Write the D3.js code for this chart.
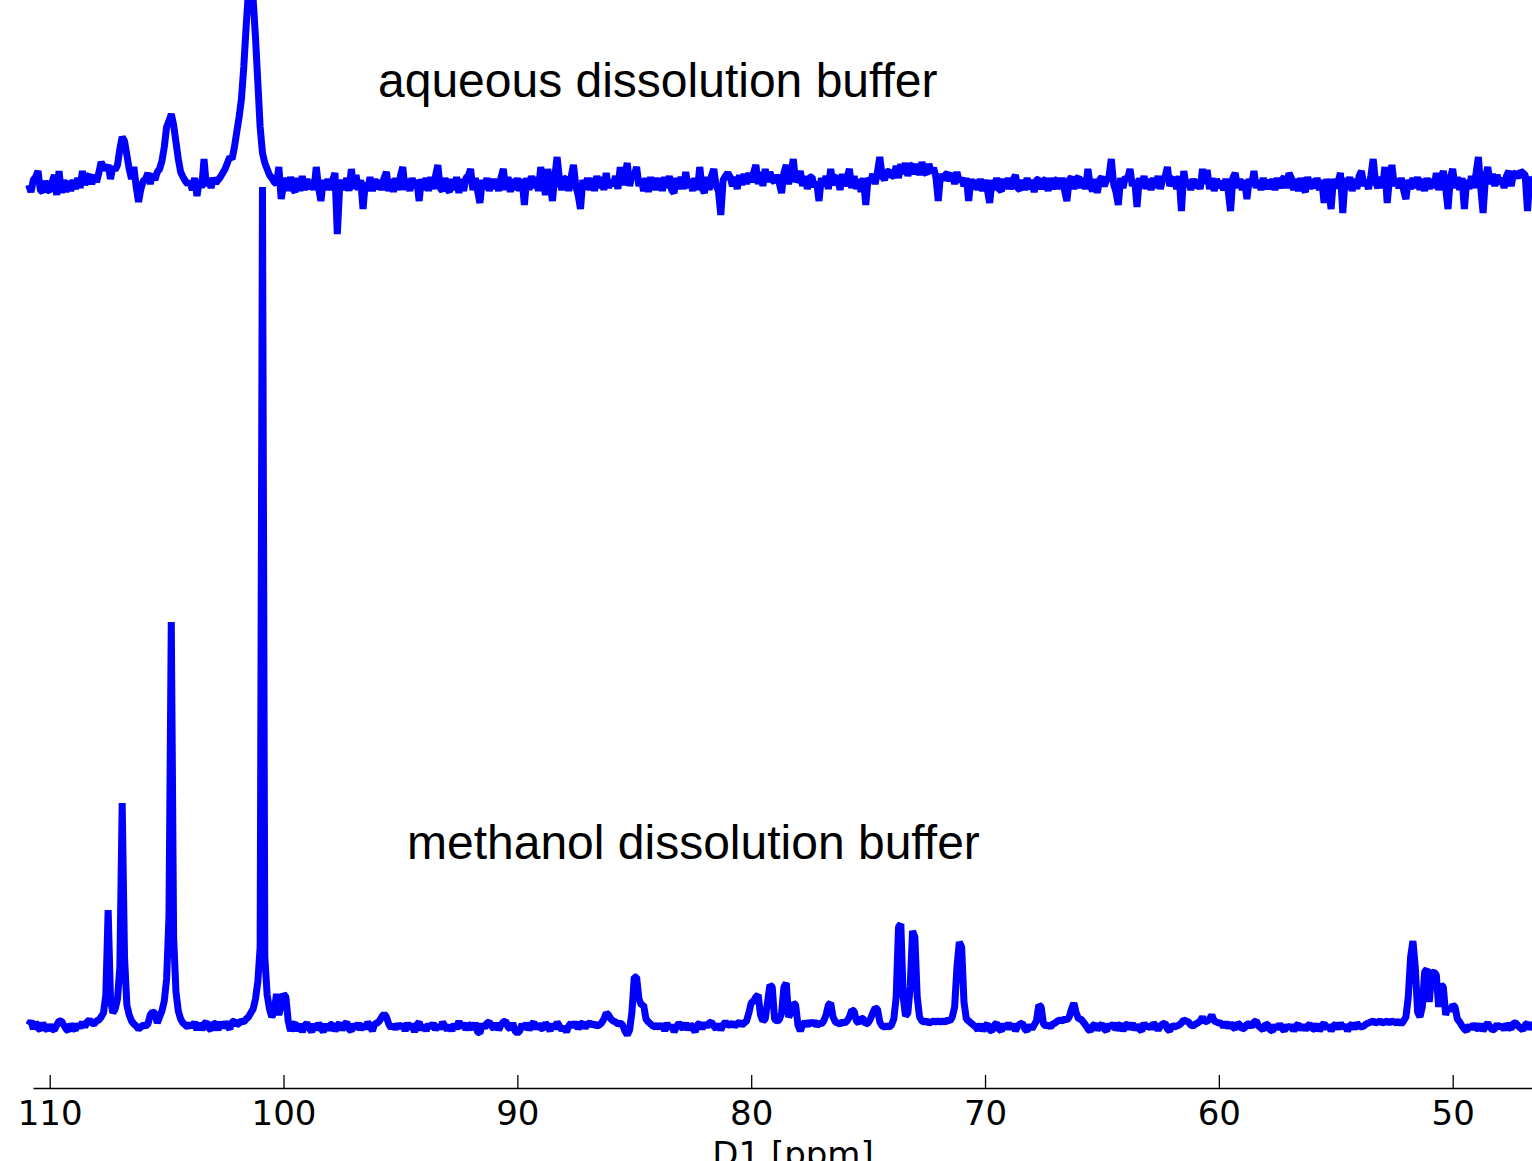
<!DOCTYPE html>
<html><head><meta charset="utf-8">
<script src="https://cdn.jsdelivr.net/npm/d3@7"></script>
<style>html,body{margin:0;padding:0;background:#fff;overflow:hidden}</style>
</head><body>
<svg id="chart" width="1532" height="1161"></svg>
<script>
// x-axis tick labels (ppm)
const tickLabels = [110, 100, 90, 80, 70, 60, 50];
const axisTitle = "D1 [ppm]";
const traceLabels = ["aqueous dissolution buffer", "methanol dissolution buffer"];

// Each row: [integer ppm P, intensities at P.9, P.8, ... P.0] (arbitrary units above baseline)
const aqueousRows = [
[110,[2,-5,7,10,16,-3,-5,6,-3,-4]],
[109,[5,12,-8,16,-6,7,-5,6,-4,7]],
[108,[-2,9,-1,16,2,10,12,3,12,5]],
[107,[14,25,20,18,22,8,20,17,22,38]],
[106,[50,46,32,18,8,20,0,-15,-2,6]],
[105,[8,14,3,13,7,15,18,26,40,60]],
[104,[66,73,62,45,28,15,10,6,3,5]],
[103,[-3,9,-9,7,-1,28,1,9,-1,9]],
[102,[4,7,10,14,18,24,30,28,40,55]],
[101,[70,88,120,160,196,205,188,150,105,60]],
[100,[34,24,18,12,9,5,3,20,-12,2]],
[99,[9,-4,10,-2,-5,9,-4,11,-3,8]],
[98,[-2,7,-3,20,-1,-14,7,-3,8,-3]],
[97,[7,14,-47,0,7,-3,9,-4,18,-2]],
[96,[12,-3,7,-22,5,-4,10,-4,8,-2]],
[95,[7,-3,9,15,-4,8,-5,9,-3,11]],
[94,[20,-3,8,-4,9,-1,7,-14,8,-3]],
[93,[9,-4,10,-2,11,22,-1,-4,9,-2]],
[92,[-5,8,-3,10,-6,8,-4,9,11,18]],
[91,[-3,9,-4,-16,7,-2,9,-4,8,-2]],
[90,[8,-4,9,18,-3,10,-5,8,-3,9]],
[89,[-4,8,-18,9,-3,11,-1,10,-4,20]],
[88,[7,-8,18,3,-14,10,30,8,-3,8]],
[87,[9,-4,10,22,1,-8,-22,7,-2,9]],
[86,[-3,9,-4,11,-1,10,-3,14,-1,7]],
[85,[1,11,-2,20,2,13,24,1,11,12]],
[84,[20,1,8,-4,9,-5,10,-3,9,-3]],
[83,[9,-4,10,-1,11,-3,-6,9,-2,10]],
[82,[-2,15,-1,8,-4,9,-3,20,-1,-6]],
[81,[10,-3,11,18,1,-4,-28,7,11,14]],
[80,[10,1,10,-2,12,2,13,3,14,5]],
[79,[14,22,3,15,1,18,5,15,7,5]],
[78,[12,4,-6,14,22,3,13,28,5,9]],
[77,[16,1,11,-2,10,10,0,5,-14,9]],
[76,[1,11,-2,18,2,8,11,-3,13,1]],
[75,[9,18,-1,11,-2,8,-5,9,-18,9]],
[74,[5,13,3,15,30,11,7,15,16,11]],
[73,[11,21,9,23,13,24,11,21,22,13]],
[72,[23,12,25,15,13,23,14,19,10,-14]],
[71,[13,7,12,14,6,14,3,15,5,9]],
[70,[1,9,-14,8,-2,7,-3,8,-4,7]],
[69,[-3,-16,7,-3,9,-2,-4,8,-2,9]],
[68,[-2,7,12,-1,-3,7,-3,9,-2,7]],
[67,[-5,7,8,-2,6,8,-4,9,-2,6]],
[66,[8,-2,9,-3,-14,7,10,-2,8,10]],
[65,[-1,9,-2,18,1,-4,8,-6,7,10]],
[64,[1,7,10,28,3,-5,-18,9,-1,10]],
[63,[8,18,1,7,-20,9,-1,11,-2,8]],
[62,[-3,9,-1,11,-2,8,10,20,1,7]],
[61,[9,-2,11,-24,16,1,7,-3,8,-1]],
[60,[7,-2,18,3,17,-2,9,-4,8,-1]],
[59,[6,-3,8,-4,-24,9,14,-1,8,-3]],
[58,[7,-12,8,1,16,-1,7,-3,9,-2]],
[57,[7,-2,8,-3,9,-1,7,10,-1,14]],
[56,[9,-3,8,-4,9,-1,-5,10,-2,8]],
[55,[-1,9,-3,7,-16,8,-2,-22,8,-1]],
[54,[5,14,-26,9,-2,10,-4,8,-2,11]],
[53,[16,1,7,-2,11,28,5,-1,10,-1]],
[52,[20,-16,9,22,1,8,-1,9,-3,-12]],
[51,[7,-2,9,-1,10,-3,8,-4,9,-2]],
[50,[8,-1,14,-3,9,16,-1,-22,9,18]],
[49,[-1,10,-3,9,-22,7,-2,11,-1,14]],
[48,[30,-1,-26,9,20,3,13,1,12,3]],
[47,[9,-1,11,16,1,13,14,9,16,14]],
[46,[12,-24,10,3,9]]
];

const methanolRows = [
[110,[2,6,-2,5,-1,-3,4,-1,-3,2]],
[109,[-2,-3,2,6,6,2,-2,-4,3,-1]],
[108,[-3,3,-1,5,0,5,7,4,3,6]],
[107,[7,10,14,32,117,28,14,18,28,60]],
[106,[224,70,22,12,6,3,1,-2,0,2]],
[105,[1,3,12,15,14,4,10,16,26,48]],
[104,[110,405,90,35,16,8,4,2,0,3]],
[103,[0,5,-3,4,-3,3,5,-1,-3,4]],
[102,[3,-3,5,-1,5,1,-2,5,6,2]],
[101,[4,6,5,8,10,14,18,28,45,80]],
[100,[840,70,32,18,10,15,33,12,22,33]],
[99,[30,6,-4,2,4,-4,3,-5,1,4]],
[98,[-1,-5,3,-3,4,-1,-5,3,-3,2]],
[97,[3,-4,1,4,-3,2,5,-2,-4,3]],
[96,[-2,4,-3,3,-2,5,1,-4,3,4]],
[95,[6,10,13,10,3,-1,2,-2,3,-1]],
[94,[3,-4,4,-2,3,-5,2,5,-3,2]],
[93,[-4,3,-1,4,-3,2,-2,5,1,-3]],
[92,[2,-4,3,-2,6,-1,4,-3,3,1]],
[91,[-2,4,-5,-6,3,-1,4,5,1,-2]],
[90,[4,-3,2,5,6,0,-2,4,-4,-6]],
[89,[-4,3,-2,4,-3,2,5,-2,3,-1]],
[88,[-2,4,1,-4,3,-2,5,1,-3,0]],
[87,[-5,1,4,0,5,-2,3,4,-1,3]],
[86,[4,2,3,1,2,4,8,14,12,8]],
[85,[6,5,3,4,2,-4,-8,-3,15,50]],
[84,[50,28,22,22,8,5,3,1,0,2]],
[83,[-1,3,-4,4,-2,2,-5,0,4,1]],
[82,[-2,4,-3,3,-1,-5,2,4,-2,4]],
[81,[0,4,5,1,-2,3,-3,2,5,2]],
[80,[2,4,1,3,5,2,4,6,14,24]],
[79,[26,30,32,12,6,8,25,42,40,8]],
[78,[6,7,14,40,44,10,14,24,22,2]],
[77,[-4,2,5,1,6,2,6,1,4,3]],
[76,[6,12,22,24,10,5,4,3,5,4]],
[75,[6,10,17,16,6,4,9,8,3,4]],
[74,[8,14,19,18,5,1,0,1,0,2]],
[73,[8,30,100,103,30,11,14,40,96,90]],
[72,[30,10,6,5,6,4,5,6,5,6]],
[71,[5,6,5,7,6,10,20,60,85,80]],
[70,[25,8,6,4,2,0,-3,3,-4,1]],
[69,[3,-3,-4,2,4,-2,-4,3,-2,4]],
[68,[-2,3,-4,1,3,4,-2,-4,2,-2]],
[67,[2,6,22,20,3,1,2,0,3,4]],
[66,[6,7,6,8,7,10,18,24,14,8]],
[65,[8,5,2,-2,-4,1,3,-3,1,3]],
[64,[-2,-4,3,-1,4,-3,1,3,-4,2]],
[63,[3,-2,4,-3,2,-2,-4,4,-1,2]],
[62,[-2,4,1,-3,1,3,4,-2,-4,2]],
[61,[0,1,2,4,7,6,5,2,1,3]],
[60,[4,6,10,5,6,8,12,6,5,4]],
[59,[4,0,5,-1,4,0,-2,4,2,-2]],
[58,[-1,3,3,0,5,6,1,-1,-3,3]],
[57,[2,-3,-4,2,-2,3,-1,-4,2,-2]],
[56,[2,-4,1,3,-3,2,-3,1,3,-2]],
[55,[-2,3,-4,1,4,-2,2,-4,1,3]],
[54,[-2,4,-1,2,-4,1,3,-2,4,1]],
[53,[0,1,3,4,5,6,4,5,6,4]],
[52,[5,6,4,6,5,4,6,3,6,10]],
[51,[30,70,86,60,15,10,20,55,58,25]],
[50,[54,55,52,20,42,40,12,20,16,22]],
[49,[20,8,5,1,-2,-4,2,-2,3,-1]],
[48,[-2,3,-4,1,4,0,-3,-2,3,-1]],
[47,[2,-3,3,0,-2,4,4,1,-1,-3]],
[46,[2,4,-2,2,3]]
];

// vertical stacking offsets of the two spectra (intensity units)
const stackOffsets = [901, 61];

const svg = d3.select("#chart");
const x = d3.scaleLinear().domain([110.714, 45.71]).range([33, 1553]);
const y = d3.scaleLinear().domain([0, 1088]).range([1088, 0]);

function expand(rows) {
  const pts = [];
  rows.forEach(([p, vals]) => vals.forEach((v, k) => pts.push([+(p + 0.9 - 0.1 * k).toFixed(1), v])));
  return pts;
}

const line = d3.line().x(d => x(d[0])).y(d => y(d[1]));
[aqueousRows, methanolRows].forEach((rows, i) => {
  const pts = expand(rows).map(([p, v]) => [p, v + stackOffsets[i]]);
  svg.append("path").datum(pts)
    .attr("d", line)
    .attr("fill", "none")
    .attr("stroke", "#0000ff")
    .attr("stroke-width", 7)
    .attr("stroke-linejoin", "bevel");
});

// axis
const axis = d3.axisBottom(x).tickValues(tickLabels).tickSizeInner(-13).tickSizeOuter(0).tickFormat(d3.format("d"));
const g = svg.append("g").attr("transform", `translate(0,${y(0)})`).call(axis)
  .attr("font-family", "DejaVu Sans").attr("font-size", 34);
g.select(".domain").attr("stroke", "#000").attr("stroke-width", 1.3);
g.selectAll(".tick line").attr("stroke", "#000").attr("stroke-width", 1.3);
g.selectAll(".tick text").attr("y", 37).attr("dy", 0).attr("fill", "#000");

svg.append("text").attr("x", 793).attr("y", 1166).attr("text-anchor", "middle")
  .attr("font-family", "DejaVu Sans").attr("font-size", 34).attr("fill", "#000").text(axisTitle);

// trace annotations
const labelPos = [[378, 97], [407, 859]];
traceLabels.forEach((t, i) => {
  svg.append("text").attr("x", labelPos[i][0]).attr("y", labelPos[i][1])
    .attr("font-family", "Liberation Sans, Arial, sans-serif").attr("font-size", 48).attr("fill", "#000").text(t);
});
</script>
</body></html>
